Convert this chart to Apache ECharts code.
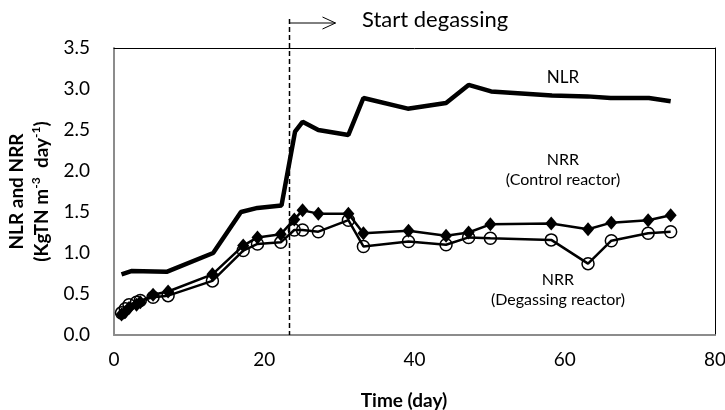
<!DOCTYPE html>
<html>
<head>
<meta charset="utf-8">
<script src="https://cdn.jsdelivr.net/npm/echarts@6/dist/echarts.min.js"></script>
<style>
  html, body { margin: 0; padding: 0; background: #fff; }
  #main { width: 725px; height: 410px; }
</style>
</head>
<body>
<div id="main"></div>
<script>
// NLR (loading rate), no markers
const nlrDays = [1, 2.3, 7, 13.2, 16.9, 19.1, 22.3, 24.1, 25.1, 27.2, 31.2, 33.2, 39.1, 44.2, 47.2, 50.2, 58.3, 63, 66.1, 71.2, 74.1];
const nlrValues = [0.74, 0.78, 0.77, 1.00, 1.50, 1.55, 1.58, 2.48, 2.60, 2.50, 2.44, 2.89, 2.76, 2.83, 3.05, 2.97, 2.92, 2.91, 2.89, 2.89, 2.85];

// NRR, both reactors sampled on the same days
const nrrDays = [1, 1.5, 2, 3, 3.5, 5.2, 7.2, 13.1, 17.2, 19.1, 22.2, 24, 25.1, 27.2, 31.2, 33.2, 39.2, 44.2, 47.2, 50.1, 58.2, 63.1, 66.2, 71.1, 74.1];
const controlNrr = [0.25, 0.28, 0.33, 0.37, 0.40, 0.49, 0.53, 0.74, 1.09, 1.19, 1.23, 1.41, 1.52, 1.48, 1.48, 1.24, 1.27, 1.21, 1.25, 1.35, 1.36, 1.29, 1.37, 1.40, 1.46];
const degassingNrr = [0.27, 0.32, 0.37, 0.40, 0.42, 0.46, 0.48, 0.66, 1.03, 1.11, 1.13, 1.28, 1.28, 1.26, 1.40, 1.08, 1.14, 1.10, 1.19, 1.18, 1.16, 0.87, 1.15, 1.24, 1.26];

const degassingStartDay = 23.3;

function pairs(xs, ys) {
    return xs.map((x, i) => [x, ys[i]]);
}

const font = 'Lato, "Open Sans", sans-serif';
const chart = echarts.init(document.getElementById('main'));

const option = {
    animation: false,
    textStyle: { fontFamily: font },
    grid: { left: 114, right: 10, top: 48, bottom: 75, outerBoundsMode: 'none', containLabel: false },
    xAxis: [
        {
            type: 'value',
            min: 0,
            max: 80,
            interval: 20,
            name: 'Time (day)',
            nameLocation: 'middle',
            nameGap: 56,
            nameTextStyle: { fontWeight: 'bold', fontSize: 19, color: '#000', fontFamily: font, padding: [0, 21, 0, 0] },
            axisLine: { show: true, lineStyle: { color: '#8c8c8c', width: 2 } },
            axisTick: { show: false },
            splitLine: { show: false },
            axisLabel: { color: '#000', fontSize: 19, margin: 15, fontFamily: font }
        },
        {
            type: 'value',
            position: 'top',
            min: 0,
            max: 80,
            axisLine: { show: true, onZero: false, lineStyle: { color: '#000', width: 1 } },
            axisTick: { show: false },
            axisLabel: { show: false },
            splitLine: { show: false }
        }
    ],
    yAxis: [
        {
            type: 'value',
            min: 0,
            max: 3.5,
            interval: 0.5,
            name: '{b|NLR and NRR}\n{b|(KgTN m}{s|-3}{b|  day}{s|-1}{b|)}',
            nameLocation: 'middle',
            nameGap: 48,
            nameTextStyle: {
                rich: {
                    b: { fontWeight: 'bold', fontSize: 19, color: '#000', fontFamily: font, lineHeight: 25 },
                    s: { fontWeight: 'bold', fontSize: 12, color: '#000', fontFamily: font, lineHeight: 25, padding: [0, 0, 10, 0] }
                }
            },
            axisLine: { show: true, lineStyle: { color: '#8c8c8c', width: 2 } },
            axisTick: { show: false },
            splitLine: { show: false },
            axisLabel: {
                color: '#000',
                fontSize: 19,
                margin: 24,
                fontFamily: font,
                formatter: v => v.toFixed(1)
            }
        },
        {
            type: 'value',
            position: 'right',
            min: 0,
            max: 3.5,
            axisLine: { show: true, onZero: false, lineStyle: { color: '#000', width: 1 } },
            axisTick: { show: false },
            axisLabel: { show: false },
            splitLine: { show: false }
        }
    ],
    series: [
        {
            name: 'NRR (Degassing reactor)',
            type: 'line',
            data: pairs(nrrDays, degassingNrr),
            symbol: 'circle',
            symbolSize: 12,
            itemStyle: { color: 'rgba(0,0,0,0)', borderColor: '#000', borderWidth: 1.5 },
            lineStyle: { color: '#000', width: 2.5 },
            z: 3
        },
        {
            name: 'NRR (Control reactor)',
            type: 'line',
            data: pairs(nrrDays, controlNrr),
            symbol: 'diamond',
            symbolSize: [12, 14],
            itemStyle: { color: '#000' },
            lineStyle: { color: '#000', width: 2.5 },
            z: 4
        },
        {
            name: 'NLR',
            type: 'line',
            data: pairs(nlrDays, nlrValues),
            showSymbol: false,
            symbol: 'none',
            lineStyle: { color: '#000', width: 4.5 },
            z: 5
        }
    ]
};

chart.setOption(option);

// annotation: dashed start line rising above the plot, with arrow and caption
const base = chart.convertToPixel({ xAxisIndex: 0, yAxisIndex: 0 }, [degassingStartDay, 0]);
const lineX = Math.round(base[0]) + 0.5;
const arrowY = 23;
const arrowEnd = lineX + 46;

chart.setOption({
    graphic: [
        {
            type: 'line',
            shape: { x1: lineX, y1: 19, x2: lineX, y2: base[1] },
            style: { stroke: '#000', lineWidth: 1.5, lineDash: [5, 3] },
            z: 10
        },
        {
            type: 'line',
            shape: { x1: lineX, y1: arrowY, x2: arrowEnd, y2: arrowY },
            style: { stroke: '#000', lineWidth: 1 },
            z: 10
        },
        {
            type: 'polyline',
            shape: { points: [[arrowEnd - 13, arrowY - 6], [arrowEnd, arrowY], [arrowEnd - 13, arrowY + 6]] },
            style: { stroke: '#000', lineWidth: 1, fill: null },
            z: 10
        },
        {
            type: 'text',
            x: 362,
            y: 20,
            style: { text: 'Start degassing', font: '22px ' + font, fill: '#000', textVerticalAlign: 'middle' },
            z: 10
        },
        {
            type: 'text',
            x: 563,
            y: 78,
            style: { text: 'NLR', font: '17px ' + font, fill: '#000', textAlign: 'center', textVerticalAlign: 'middle' }
        },
        {
            type: 'text',
            x: 563,
            y: 170,
            style: { text: 'NRR\n(Control reactor)', font: '16px ' + font, fill: '#000', textAlign: 'center', textVerticalAlign: 'middle', lineHeight: 20 }
        },
        {
            type: 'text',
            x: 558,
            y: 290,
            style: { text: 'NRR\n(Degassing reactor)', font: '16px ' + font, fill: '#000', textAlign: 'center', textVerticalAlign: 'middle', lineHeight: 20 }
        }
    ]
});

window.addEventListener('resize', () => chart.resize());
</script>
</body>
</html>
